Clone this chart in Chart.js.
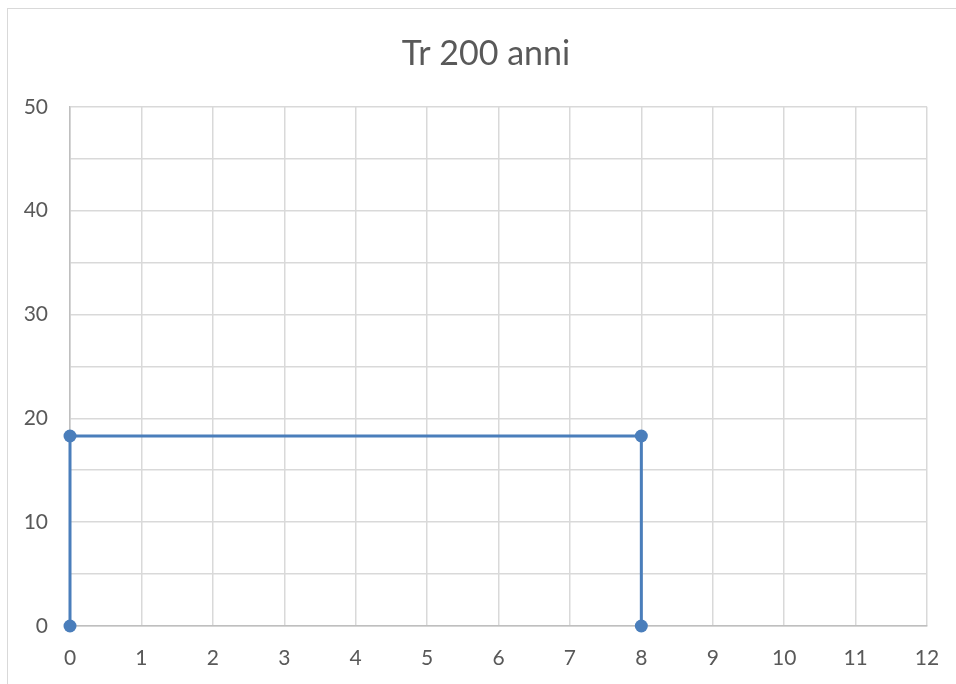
<!DOCTYPE html>
<html>
<head>
<meta charset="utf-8">
<script src="https://cdn.jsdelivr.net/npm/chart.js@4"></script>
<style>
  html, body { margin: 0; padding: 0; background: #fff; }
  #wrap { position: relative; width: 956px; height: 684px; overflow: hidden; }
  #frame { position: absolute; left: 7px; top: 8px; width: 960px; height: 700px;
           border-left: 1px solid #d9d9d9; border-top: 1px solid #d9d9d9; }
  #chart { position: absolute; left: 0; top: 0; }
</style>
</head>
<body>
<div id="wrap">
  <div id="frame"></div>
  <canvas id="chart" width="956" height="684"></canvas>
</div>
<script>
// data
const titleText = "Tr 200 anni";
const xValues = [0, 0, 8, 8];
const yValues = [0, 18.3, 18.3, 0];
const xTicks = [0, 1, 2, 3, 4, 5, 6, 7, 8, 9, 10, 11, 12];
const yTicks = [0, 10, 20, 30, 40, 50];

const points = xValues.map((x, i) => ({ x: x, y: yValues[i] }));

const textColor = "#595959";
const gridColor = "#d9d9d9";
const lineColor = "#4a7ebb";

// Excel centres the title a bit right of the canvas centre
const shiftTitle = {
  id: "shiftTitle",
  beforeDraw(chart) {
    if (chart.titleBlock) chart.titleBlock.left = 45;
  }
};

new Chart(document.getElementById("chart").getContext("2d"), {
  type: "scatter",
  data: {
    datasets: [{
      data: points,
      showLine: true,
      clip: false,
      borderColor: lineColor,
      backgroundColor: lineColor,
      borderWidth: 3,
      pointRadius: 6.5,
      pointBorderWidth: 0,
      tension: 0
    }]
  },
  plugins: [shiftTitle],
  options: {
    responsive: false,
    animation: false,
    layout: { padding: { left: 0, right: 29, top: 0, bottom: 0 } },
    plugins: {
      legend: { display: false },
      tooltip: { enabled: false },
      title: {
        display: true,
        text: titleText,
        color: textColor,
        font: { family: "Lato", size: 34, weight: "normal" },
        padding: { top: 34, bottom: 32 }
      }
    },
    scales: {
      x: {
        type: "linear",
        min: xTicks[0],
        max: xTicks[xTicks.length - 1],
        afterBuildTicks: s => { s.ticks = xTicks.map(v => ({ value: v })); },
        afterFit: s => { s.height = 58; s.paddingLeft = 0; s.paddingRight = 0; },
        grid: { color: gridColor, lineWidth: 1.5, drawTicks: false },
        border: { color: "#bfbfbf", width: 1.5 },
        ticks: {
          color: textColor,
          padding: 20,
          font: { family: "Lato", size: 21 }
        }
      },
      y: {
        type: "linear",
        min: yTicks[0],
        max: yTicks[yTicks.length - 1],
        afterBuildTicks: s => {
          const t = [];
          for (let i = 0; i < yTicks.length; i++) {
            t.push({ value: yTicks[i] });
            if (i < yTicks.length - 1) t.push({ value: (yTicks[i] + yTicks[i + 1]) / 2 });
          }
          s.ticks = t;
        },
        afterFit: s => { s.width = 70; },
        grid: { color: gridColor, lineWidth: 1.5, drawTicks: false },
        border: { color: "#bfbfbf", width: 1.5 },
        ticks: {
          color: textColor,
          padding: 22,
          font: { family: "Lato", size: 21 },
          callback: v => (yTicks.includes(v) ? v : "")
        }
      }
    }
  }
});
</script>
</body>
</html>
